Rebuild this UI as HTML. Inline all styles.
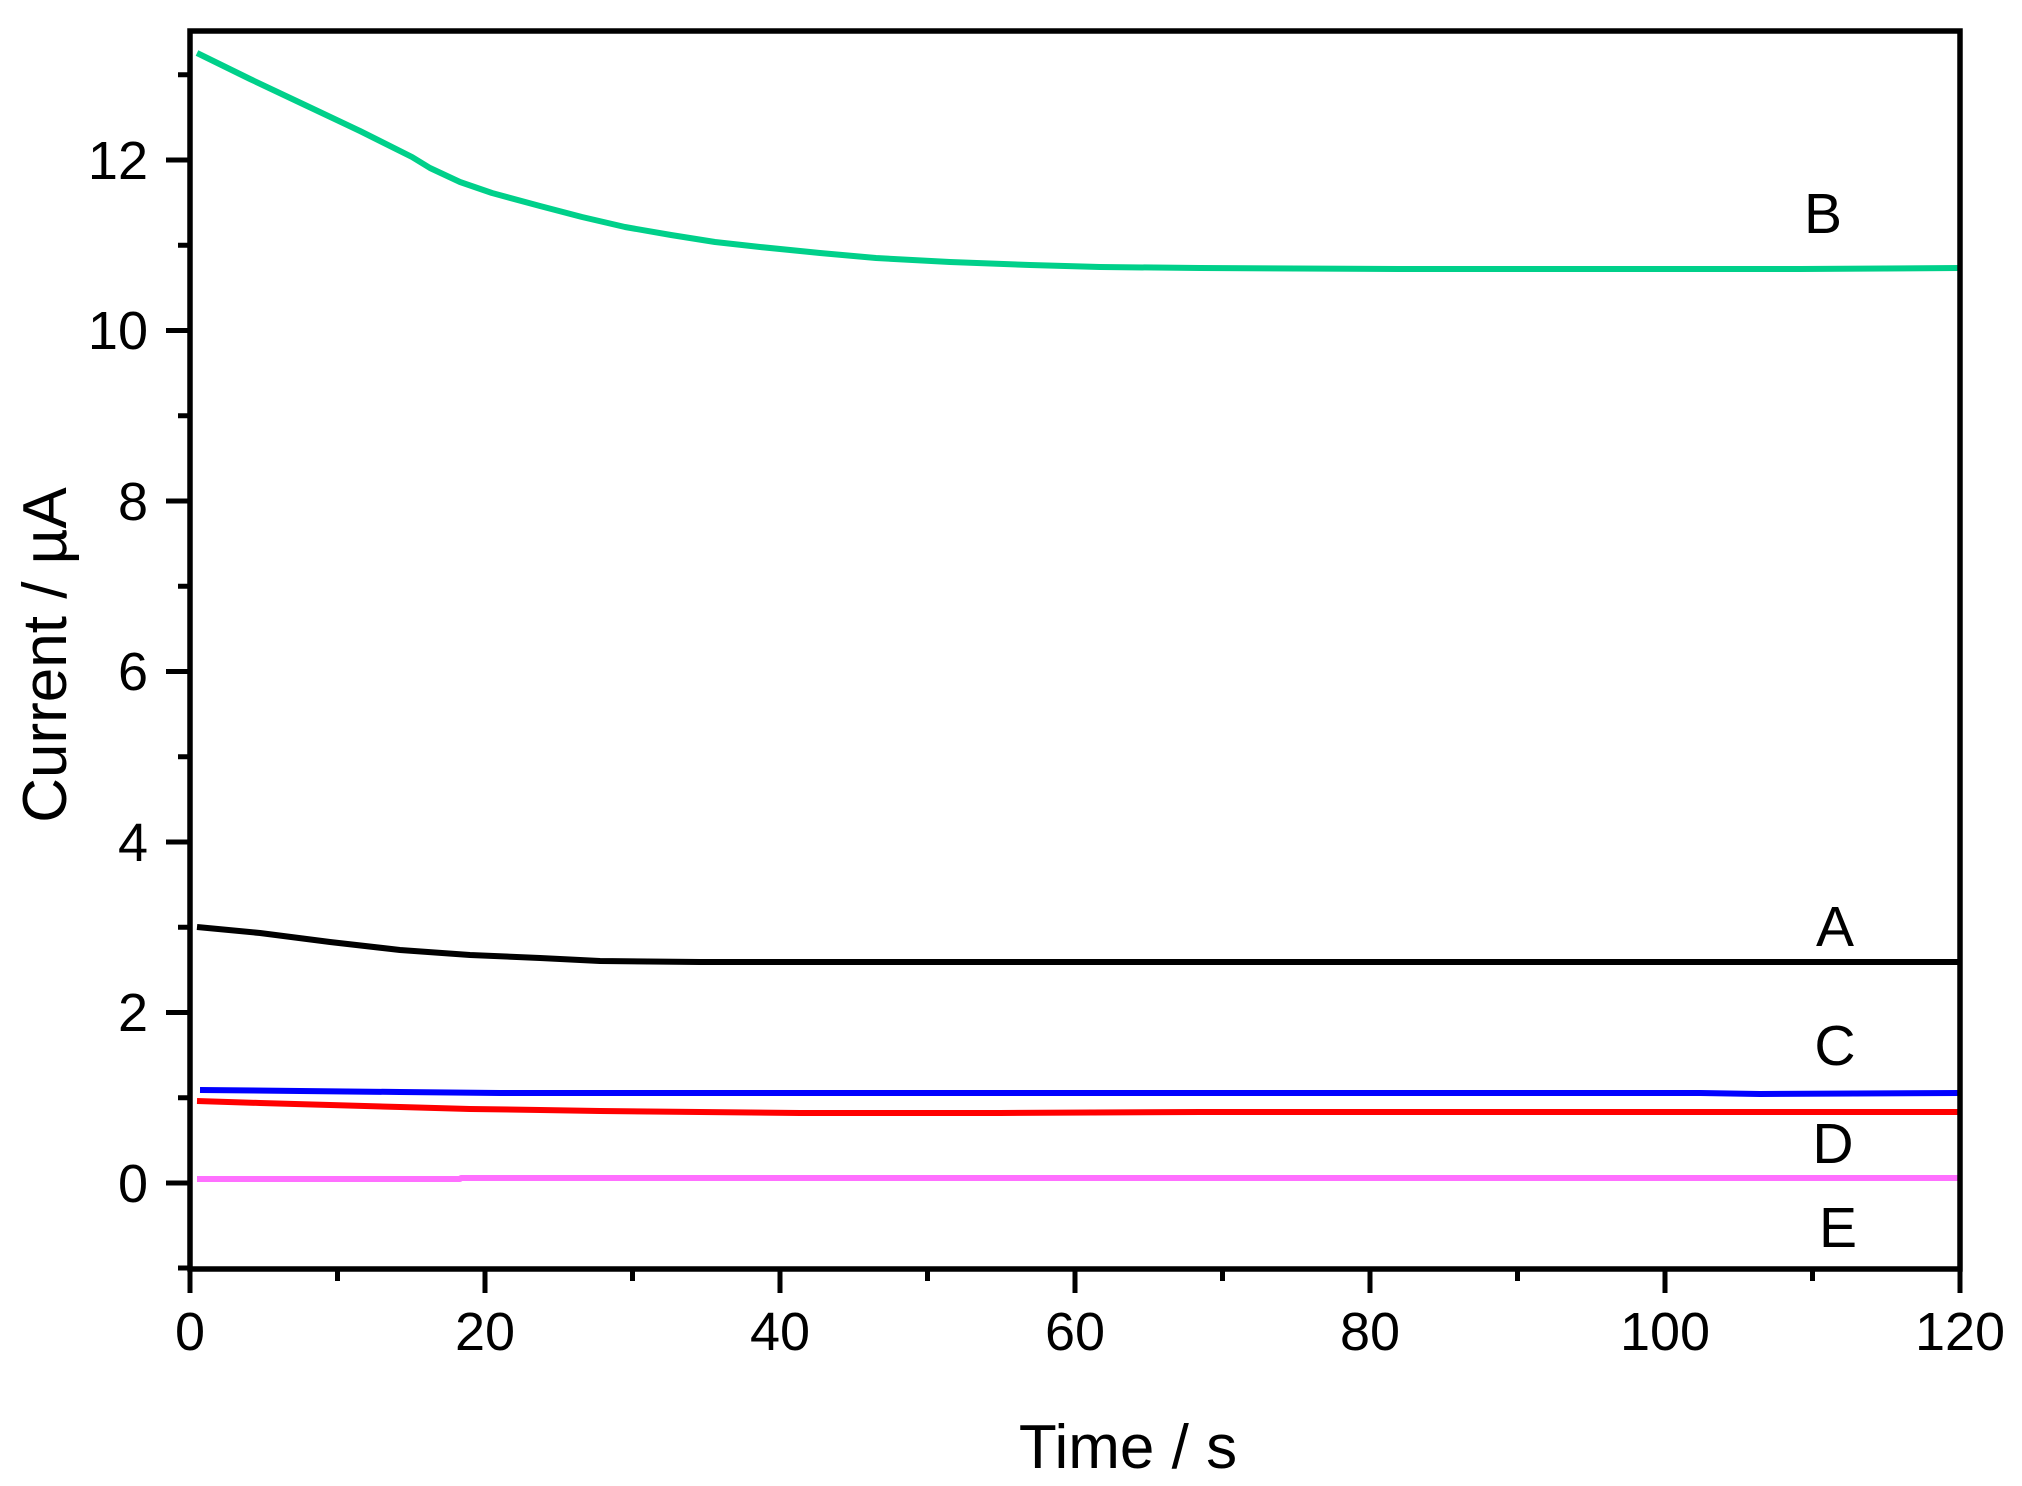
<!DOCTYPE html>
<html><head><meta charset="utf-8"><style>html,body{margin:0;padding:0;background:#fff}svg{display:block}</style></head>
<body>
<svg width="2022" height="1486" viewBox="0 0 2022 1486" xmlns="http://www.w3.org/2000/svg" font-family="Liberation Sans, Arial, sans-serif">
<rect width="2022" height="1486" fill="#fff"/>
<g fill="none" stroke-width="6" stroke-linejoin="round">
<polyline stroke="#00D08A" points="197,53 250,79 305,105 360,131 412,157 430,168 460,182 492,193 540,206 582,217 625,227 671,235 715,242 760,247 820,253 876,258 950,262 1030,265 1100,267 1200,268 1400,269 1600,269 1800,269 1960,268"/>
<polyline stroke="#000" points="197,927 260,933 330,942 400,950 470,955 540,958 600,961 700,962 1960,962"/>
<polyline stroke="#0000FF" points="200,1090 300,1091 400,1092 500,1093 1700,1093 1760,1094 1960,1093"/>
<polyline stroke="#FF0000" points="197,1101 260,1103 330,1105 400,1107 470,1109 540,1110 600,1111 700,1112 800,1113 1000,1113 1200,1112 1960,1112"/>
<polyline stroke="#FF70FF" points="197,1179 460,1179 461,1178 1960,1178"/>
</g>
<g stroke="#000" stroke-width="5.5" fill="none">
<rect x="190" y="31" width="1770" height="1238"/>
</g>
<g stroke="#000" stroke-width="5">
<line x1="166" y1="1183" x2="190" y2="1183"/><line x1="166" y1="1012.5" x2="190" y2="1012.5"/>
<line x1="166" y1="842" x2="190" y2="842"/><line x1="166" y1="671.5" x2="190" y2="671.5"/>
<line x1="166" y1="501" x2="190" y2="501"/><line x1="166" y1="330.5" x2="190" y2="330.5"/>
<line x1="166" y1="160" x2="190" y2="160"/>
<line x1="178" y1="1268" x2="190" y2="1268"/><line x1="178" y1="1097.75" x2="190" y2="1097.75"/>
<line x1="178" y1="927.25" x2="190" y2="927.25"/><line x1="178" y1="756.75" x2="190" y2="756.75"/>
<line x1="178" y1="586.25" x2="190" y2="586.25"/><line x1="178" y1="415.75" x2="190" y2="415.75"/>
<line x1="178" y1="245.25" x2="190" y2="245.25"/><line x1="178" y1="74.75" x2="190" y2="74.75"/>
<line x1="190" y1="1269" x2="190" y2="1293"/><line x1="485" y1="1269" x2="485" y2="1293"/>
<line x1="780" y1="1269" x2="780" y2="1293"/><line x1="1075" y1="1269" x2="1075" y2="1293"/>
<line x1="1370" y1="1269" x2="1370" y2="1293"/><line x1="1665" y1="1269" x2="1665" y2="1293"/>
<line x1="1960" y1="1269" x2="1960" y2="1293"/>
<line x1="337.5" y1="1269" x2="337.5" y2="1281"/><line x1="632.5" y1="1269" x2="632.5" y2="1281"/>
<line x1="927.5" y1="1269" x2="927.5" y2="1281"/><line x1="1222.5" y1="1269" x2="1222.5" y2="1281"/>
<line x1="1517.5" y1="1269" x2="1517.5" y2="1281"/><line x1="1812.5" y1="1269" x2="1812.5" y2="1281"/>
</g>
<g font-size="54" fill="#000" text-anchor="end">
<text x="148" y="1202">0</text><text x="148" y="1031">2</text><text x="148" y="861">4</text>
<text x="148" y="690">6</text><text x="148" y="520">8</text><text x="148" y="349">10</text><text x="148" y="179">12</text>
</g>
<g font-size="54" fill="#000" text-anchor="middle">
<text x="190" y="1350">0</text><text x="485" y="1350">20</text><text x="780" y="1350">40</text>
<text x="1075" y="1350">60</text><text x="1370" y="1350">80</text><text x="1665" y="1350">100</text><text x="1960" y="1350">120</text>
</g>
<g font-size="57" fill="#000" text-anchor="middle">
<text x="1823" y="233">B</text><text x="1835" y="946">A</text><text x="1835" y="1065">C</text>
<text x="1833" y="1163">D</text><text x="1838" y="1247">E</text>
</g>
<text x="1128" y="1468" font-size="62" text-anchor="middle" fill="#000">Time / s</text>
<text transform="translate(66,655) rotate(-90)" font-size="62" text-anchor="middle" fill="#000">Current / µA</text>
</svg>
</body></html>
